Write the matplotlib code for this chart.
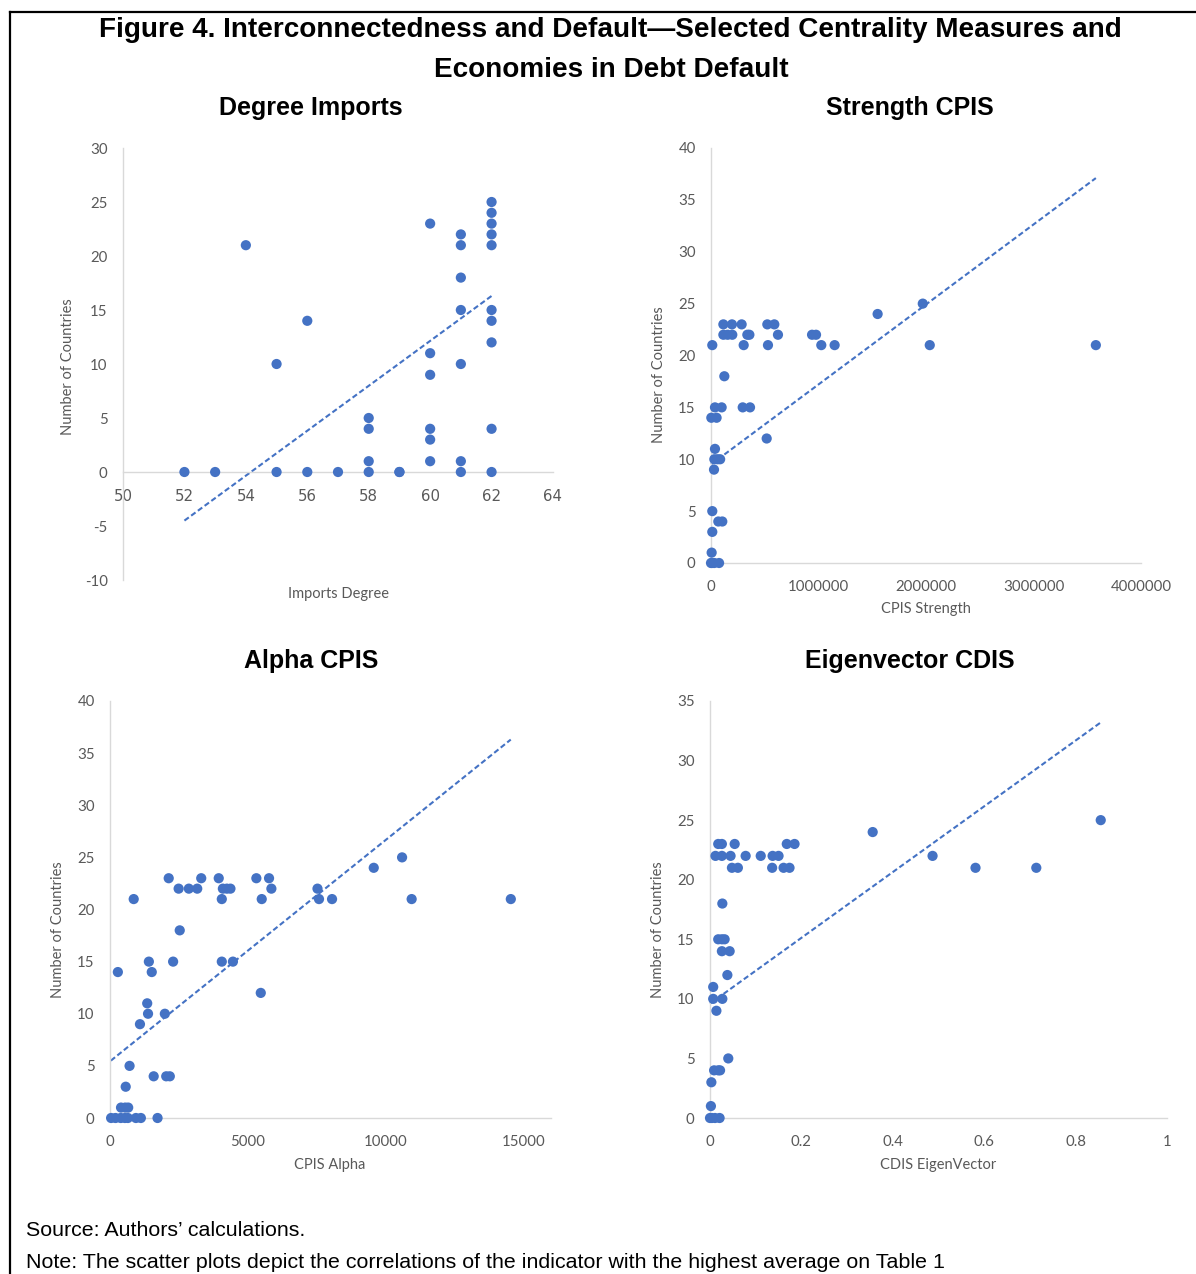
import matplotlib
matplotlib.use("Agg")
import matplotlib.pyplot as plt
from matplotlib.lines import Line2D

plt.rcParams["axes.unicode_minus"] = False

# ---- data ----
# Degree Imports
deg_x = [52, 53, 54, 55, 55, 56, 56, 57, 58, 58, 58, 58, 59, 59,
         60, 60, 60, 60, 60, 60,
         61, 61, 61, 61, 61, 61, 61,
         62, 62, 62, 62, 62, 62, 62, 62, 62, 62]
deg_y = [0, 0, 21, 10, 0, 14, 0, 0, 5, 4, 1, 0, 0, 0,
         23, 11, 9, 4, 3, 1,
         22, 21, 18, 15, 10, 1, 0,
         25, 24, 23, 22, 21, 15, 14, 12, 4, 0]
deg_trend_x = [52, 62]
deg_trend_y = [-4.5, 16.3]

# Strength CPIS
str_x = [115000, 195000, 285000, 524000, 589000,
         115000, 155000, 198000, 338000, 357000, 623000, 940000, 977000,
         12000, 304000, 530000, 1026000, 1150000, 2035000, 3580000,
         1970000, 1550000, 124000,
         37000, 99000, 295000, 363000,
         3000, 52000, 518000, 37000,
         31000, 60000, 85000, 28000,
         12000, 68000, 105000, 12000, 6000,
         0, 10000, 30000, 75000]
str_y = [23, 23, 23, 23, 23,
         22, 22, 22, 22, 22, 22, 22, 22,
         21, 21, 21, 21, 21, 21, 21,
         25, 24, 18,
         15, 15, 15, 15,
         14, 14, 12, 11,
         10, 10, 10, 9,
         5, 4, 4, 3, 1,
         0, 0, 0, 0]
str_trend_x = [0, 3580000]
str_trend_y = [9.5, 37.1]

# Alpha CPIS
alp_x = [2130, 3310, 3945, 5310, 5770,
         2490, 2860, 3165, 4095, 4240, 4370, 5855, 7528,
         860, 4056, 5505, 7583, 8056, 10944, 14542,
         10597, 9569, 2530,
         1410, 2290, 4056, 4460,
         285, 1515, 5470, 1350,
         1380, 1990, 1087,
         710, 1585, 2040, 2170, 570,
         400, 550, 660,
         40, 200, 390, 540, 650, 940, 1120, 1725]
alp_y = [23, 23, 23, 23, 23,
         22, 22, 22, 22, 22, 22, 22, 22,
         21, 21, 21, 21, 21, 21, 21,
         25, 24, 18,
         15, 15, 15, 15,
         14, 14, 12, 11,
         10, 10, 9,
         5, 4, 4, 4, 3,
         1, 1, 1,
         0, 0, 0, 0, 0, 0, 0, 0]
alp_trend_x = [30, 14540]
alp_trend_y = [5.5, 36.3]

# Eigenvector CDIS
eig_x = [0.855, 0.356, 0.487, 0.581, 0.714,
         0.018, 0.026, 0.054, 0.168, 0.185,
         0.012, 0.026, 0.045, 0.078, 0.111, 0.137, 0.150,
         0.048, 0.061, 0.136, 0.161, 0.174,
         0.027, 0.018, 0.026, 0.032, 0.026, 0.043,
         0.038, 0.007, 0.007, 0.027, 0.014,
         0.040, 0.009, 0.018, 0.022, 0.003, 0.002,
         0.0, 0.004, 0.011, 0.021]
eig_y = [25, 24, 22, 21, 21,
         23, 23, 23, 23, 23,
         22, 22, 22, 22, 22, 22, 22,
         21, 21, 21, 21, 21,
         18, 15, 15, 15, 14, 14,
         12, 11, 10, 10, 9,
         5, 4, 4, 4, 3, 1,
         0, 0, 0, 0]
eig_trend_x = [0, 0.855]
eig_trend_y = [9.6, 33.2]

# ---- styling ----
W, H = 1196, 1274
BLUE = "#4472C4"
AXIS = "#D9D9D9"
TICK = "#595959"
TICK_FONT = "Lato"
HEAD_FONT = "Liberation Sans"

fig = plt.figure(figsize=(W / 100, H / 100), dpi=100)


def box(l, t, r, b):
    return [l / W, 1 - b / H, (r - l) / W, (b - t) / H]


def ftext(x, y, s, **kw):
    fig.text(x / W, 1 - y / H, s, **kw)


def scatter_panel(pos, xs, ys, tx, ty, xlim, ylim, xticks, yticks, xfmt=str):
    ax = fig.add_axes(box(*pos))
    ax.scatter(xs, ys, s=54, color=BLUE, edgecolors="none", zorder=3, clip_on=False)
    ax.plot(tx, ty, color=BLUE, lw=1.5, dashes=(2.6, 1.4), zorder=2, clip_on=False)
    ax.set_xlim(*xlim)
    ax.set_ylim(*ylim)
    ax.set_xticks(xticks)
    ax.set_xticklabels([xfmt(v) for v in xticks])
    ax.set_yticks(yticks)
    for side in ("top", "right"):
        ax.spines[side].set_visible(False)
    for side in ("left", "bottom"):
        ax.spines[side].set_color(AXIS)
        ax.spines[side].set_linewidth(1.0)
    ax.tick_params(length=0, labelsize=10.8, labelcolor=TICK)
    ax.tick_params(axis="y", pad=11)
    ax.tick_params(axis="x", pad=12)
    for lab in ax.get_xticklabels() + ax.get_yticklabels():
        lab.set_fontfamily(TICK_FONT)
    ax.patch.set_alpha(0)
    return ax


# panel 1
ax1 = scatter_panel((123, 148, 553, 580), deg_x, deg_y, deg_trend_x, deg_trend_y,
                    (50, 64), (-10, 30), range(50, 65, 2), range(-10, 31, 5))
ax1.spines["bottom"].set_position(("data", 0))

# panel 2
scatter_panel((711, 148, 1141, 563), str_x, str_y, str_trend_x, str_trend_y,
              (0, 4000000), (0, 40), [0, 1000000, 2000000, 3000000, 4000000],
              range(0, 41, 5))

# panel 3
scatter_panel((110, 701, 551, 1118), alp_x, alp_y, alp_trend_x, alp_trend_y,
              (0, 16000), (0, 40), [0, 5000, 10000, 15000], range(0, 41, 5))

# panel 4
scatter_panel((710, 701, 1167, 1118), eig_x, eig_y, eig_trend_x, eig_trend_y,
              (0, 1), (0, 35), [0, 0.2, 0.4, 0.6, 0.8, 1], range(0, 36, 5),
              xfmt=lambda v: "%g" % v)

# panel titles
for (x, y), t in zip([(311, 108), (910, 108), (311, 661), (910, 661)],
                     ["Degree Imports", "Strength CPIS", "Alpha CPIS", "Eigenvector CDIS"]):
    ftext(x, y, t, ha="center", va="center", fontsize=18, fontweight="bold",
          family=HEAD_FONT, color="black")

# axis labels
for (x, y), t in zip([(338, 594), (926, 609), (330, 1165), (938, 1165)],
                     ["Imports Degree", "CPIS Strength", "CPIS Alpha", "CDIS EigenVector"]):
    ftext(x, y, t, ha="center", va="center", fontsize=10.5, family=TICK_FONT, color=TICK)
for x, y in [(68, 367), (659, 375), (58, 930), (658, 930)]:
    ftext(x, y, "Number of Countries", ha="center", va="center", rotation=90,
          fontsize=10.5, family=TICK_FONT, color=TICK)

# main title
ftext(610, 30, "Figure 4. Interconnectedness and Default\u2014Selected Centrality Measures and",
      ha="center", va="center", fontsize=20.1, fontweight="bold", family=HEAD_FONT)
ftext(611, 70, "Economies in Debt Default",
      ha="center", va="center", fontsize=20.1, fontweight="bold", family=HEAD_FONT)

# notes
ftext(26, 1230, "Source: Authors\u2019 calculations.", ha="left", va="center",
      fontsize=15.4, family=HEAD_FONT)
ftext(26, 1262, "Note: The scatter plots depict the correlations of the indicator with the highest average on Table 1",
      ha="left", va="center", fontsize=15.4, family=HEAD_FONT)

# frame lines
fig.add_artist(Line2D([10 / W, 1], [1 - 12 / H, 1 - 12 / H], color="black", lw=1.6))
fig.add_artist(Line2D([10 / W, 10 / W], [0, 1 - 12 / H], color="black", lw=1.6))

fig.savefig("out.png", dpi=100)
